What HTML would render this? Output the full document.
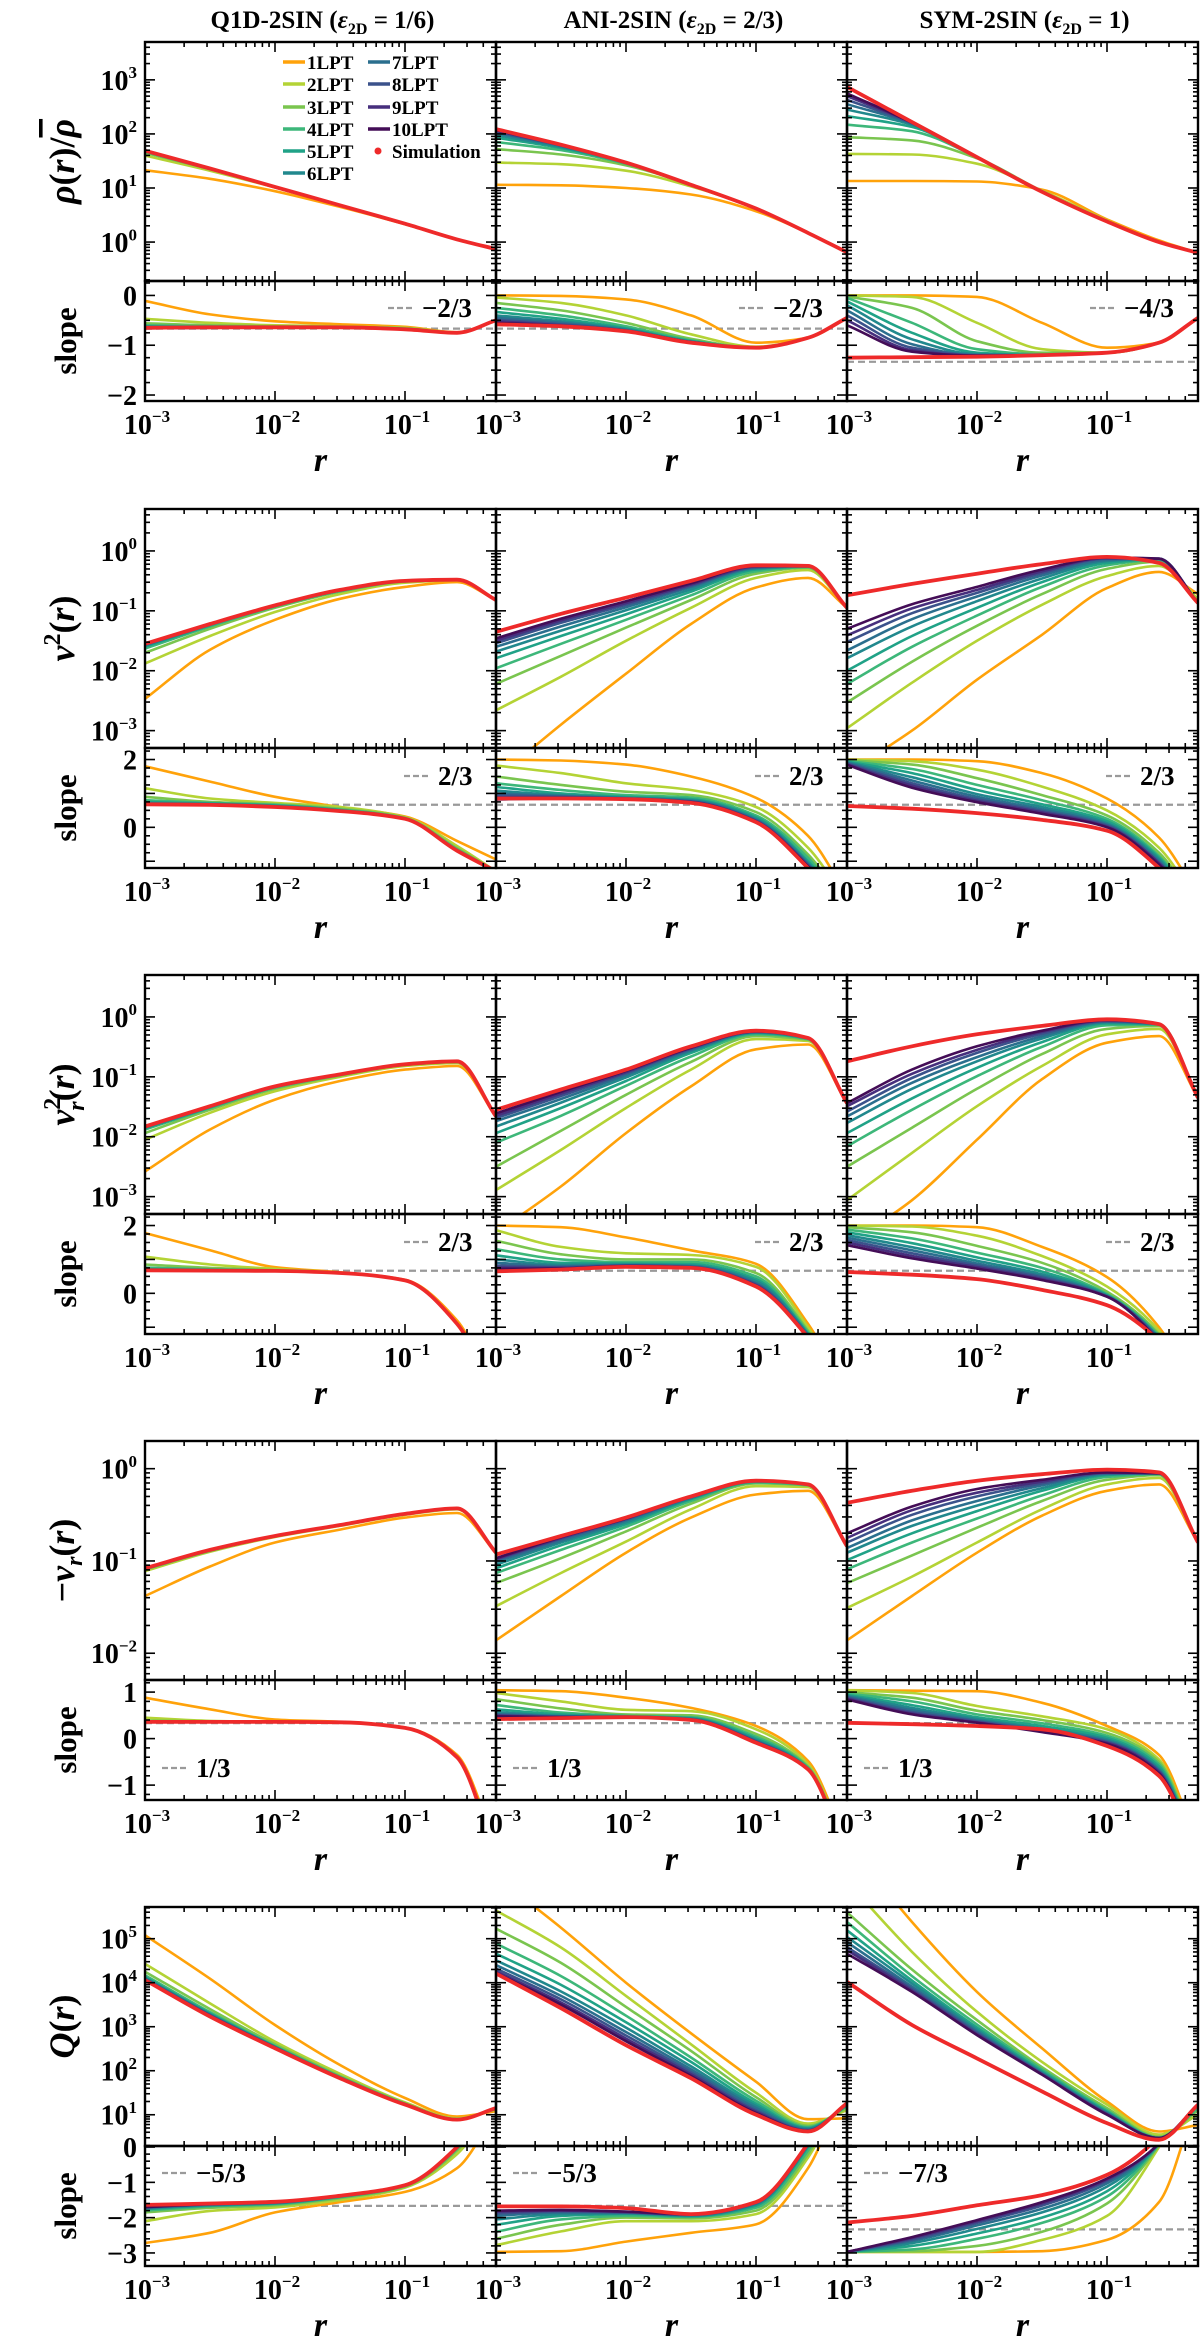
<!DOCTYPE html>
<html><head><meta charset="utf-8">
<style>
html,body{margin:0;padding:0;background:#fff;}
svg{display:block;}
text{font-family:"Liberation Serif","DejaVu Serif",serif;font-weight:bold;fill:#000;}
</style></head>
<body>
<svg id="fig" width="1200" height="2342" viewBox="0 0 1200 2342" xmlns="http://www.w3.org/2000/svg"></svg>
<script>
// ---------- shared x grid (log10 r) ----------
const LX = [-3,-2.5,-2,-1.5,-1,-0.6,-0.3];
const colNames = ["Q1D","ANI","SYM"];
const orderLabels = ["1LPT","2LPT","3LPT","4LPT","5LPT","6LPT","7LPT","8LPT","9LPT","10LPT"];

// ---------- ROW 1: rho (log10 values) ----------
const rhoQ1D = [
 [1.33,1.17,0.94,0.65,0.33,0.05,-0.13],
 [1.60,1.32,1.01,0.68,0.34,0.05,-0.13],
 [1.65,1.35,1.02,0.68,0.34,0.05,-0.13],
 [1.67,1.35,1.02,0.68,0.34,0.05,-0.13],
 [1.68,1.36,1.02,0.68,0.34,0.05,-0.13],
 [1.68,1.36,1.02,0.68,0.34,0.05,-0.13],
 [1.69,1.36,1.02,0.68,0.34,0.05,-0.13],
 [1.69,1.36,1.02,0.68,0.34,0.05,-0.13],
 [1.69,1.36,1.02,0.68,0.34,0.05,-0.13],
 [1.69,1.36,1.02,0.68,0.34,0.05,-0.13]];
const rhoQ1DSim = [1.69,1.36,1.02,0.68,0.34,0.05,-0.13];
const rhoANI = [
 [1.06,1.05,1.00,0.88,0.57,0.17,-0.19],
 [1.47,1.44,1.32,1.03,0.62,0.17,-0.19],
 [1.72,1.62,1.42,1.06,0.62,0.17,-0.19],
 [1.85,1.70,1.45,1.06,0.62,0.17,-0.19],
 [1.93,1.74,1.46,1.06,0.62,0.17,-0.19],
 [1.98,1.76,1.47,1.06,0.62,0.17,-0.19],
 [2.02,1.78,1.47,1.06,0.62,0.17,-0.19],
 [2.04,1.79,1.47,1.06,0.62,0.17,-0.19],
 [2.06,1.79,1.47,1.06,0.62,0.17,-0.19],
 [2.07,1.80,1.47,1.06,0.62,0.17,-0.19]];
const rhoANISim = [2.09,1.80,1.47,1.06,0.62,0.17,-0.19];
const rhoSYM = [
 [1.13,1.13,1.12,0.97,0.42,0.03,-0.2],
 [1.63,1.62,1.45,0.95,0.40,0.00,-0.2],
 [1.94,1.88,1.55,0.94,0.38,0.00,-0.2],
 [2.17,2.05,1.57,0.93,0.38,0.00,-0.2],
 [2.33,2.13,1.57,0.93,0.38,0.00,-0.2],
 [2.45,2.17,1.57,0.93,0.38,0.00,-0.2],
 [2.55,2.19,1.57,0.93,0.38,0.00,-0.2],
 [2.63,2.20,1.57,0.93,0.38,0.00,-0.2],
 [2.70,2.21,1.57,0.93,0.38,0.00,-0.2],
 [2.75,2.21,1.57,0.93,0.38,0.00,-0.2]];
const rhoSYMSim = [2.87,2.22,1.57,0.93,0.38,0.00,-0.2];
const rhoQ1DSlope = [
 [-0.11,-0.38,-0.52,-0.58,-0.63,-0.74,-0.5],
 [-0.47,-0.55,-0.60,-0.62,-0.65,-0.74,-0.5],
 [-0.56,-0.60,-0.62,-0.63,-0.66,-0.75,-0.5],
 [-0.60,-0.62,-0.63,-0.64,-0.67,-0.75,-0.5],
 [-0.62,-0.63,-0.63,-0.64,-0.67,-0.75,-0.5],
 [-0.63,-0.63,-0.64,-0.64,-0.68,-0.75,-0.5],
 [-0.64,-0.64,-0.64,-0.64,-0.68,-0.75,-0.5],
 [-0.65,-0.64,-0.64,-0.64,-0.68,-0.75,-0.5],
 [-0.65,-0.64,-0.64,-0.64,-0.68,-0.75,-0.5],
 [-0.66,-0.65,-0.64,-0.64,-0.68,-0.75,-0.5]];
const rhoQ1DSlopeSim = [-0.65,-0.64,-0.64,-0.64,-0.68,-0.75,-0.5];
const rhoANISlope = [
 [0.00,-0.01,-0.08,-0.40,-0.95,-0.85,-0.45],
 [-0.04,-0.15,-0.40,-0.78,-1.03,-0.85,-0.45],
 [-0.15,-0.30,-0.55,-0.87,-1.05,-0.85,-0.45],
 [-0.25,-0.40,-0.62,-0.90,-1.05,-0.85,-0.45],
 [-0.33,-0.47,-0.66,-0.92,-1.05,-0.85,-0.45],
 [-0.40,-0.52,-0.68,-0.93,-1.05,-0.85,-0.45],
 [-0.45,-0.55,-0.70,-0.93,-1.05,-0.85,-0.45],
 [-0.49,-0.58,-0.70,-0.94,-1.05,-0.85,-0.45],
 [-0.52,-0.60,-0.71,-0.94,-1.05,-0.85,-0.45],
 [-0.55,-0.61,-0.71,-0.94,-1.05,-0.85,-0.45]];
const rhoANISlopeSim = [-0.58,-0.62,-0.72,-0.95,-1.05,-0.85,-0.45];
const rhoSYMSlope = [
 [0.00,0.00,-0.03,-0.55,-1.05,-0.95,-0.45],
 [0.00,-0.03,-0.55,-1.08,-1.15,-0.95,-0.45],
 [-0.02,-0.25,-0.92,-1.15,-1.15,-0.95,-0.45],
 [-0.05,-0.55,-1.08,-1.18,-1.15,-0.95,-0.45],
 [-0.12,-0.75,-1.15,-1.20,-1.15,-0.95,-0.45],
 [-0.20,-0.88,-1.18,-1.20,-1.15,-0.95,-0.45],
 [-0.30,-0.98,-1.20,-1.20,-1.15,-0.95,-0.45],
 [-0.40,-1.05,-1.20,-1.20,-1.15,-0.95,-0.45],
 [-0.50,-1.10,-1.21,-1.20,-1.15,-0.95,-0.45],
 [-0.60,-1.13,-1.21,-1.20,-1.15,-0.95,-0.45]];
const rhoSYMSlopeSim = [-1.25,-1.24,-1.23,-1.20,-1.15,-0.95,-0.45];

// ---------- ROW 2: v^2 ----------
const v2Q1D = [
 [-2.47,-1.65,-1.15,-0.80,-0.60,-0.52,-0.82],
 [-1.88,-1.42,-1.02,-0.72,-0.53,-0.49,-0.82],
 [-1.70,-1.30,-0.95,-0.68,-0.51,-0.48,-0.82],
 [-1.63,-1.26,-0.93,-0.67,-0.51,-0.48,-0.82],
 [-1.60,-1.24,-0.92,-0.66,-0.50,-0.48,-0.82],
 [-1.58,-1.23,-0.92,-0.66,-0.50,-0.48,-0.82],
 [-1.57,-1.23,-0.91,-0.65,-0.50,-0.48,-0.82],
 [-1.56,-1.22,-0.91,-0.65,-0.50,-0.48,-0.82],
 [-1.56,-1.22,-0.91,-0.65,-0.50,-0.48,-0.82],
 [-1.55,-1.22,-0.91,-0.65,-0.50,-0.48,-0.82]];
const v2Q1DSim = [-1.55,-1.22,-0.91,-0.65,-0.50,-0.48,-0.82];
const v2ANI = [
 [-3.80,-2.90,-2.05,-1.22,-0.61,-0.45,-0.95],
 [-2.66,-2.10,-1.50,-0.95,-0.45,-0.32,-0.95],
 [-2.22,-1.75,-1.28,-0.82,-0.38,-0.28,-0.95],
 [-1.96,-1.55,-1.15,-0.74,-0.34,-0.27,-0.95],
 [-1.79,-1.42,-1.06,-0.68,-0.31,-0.26,-0.95],
 [-1.68,-1.33,-0.99,-0.64,-0.29,-0.26,-0.95],
 [-1.60,-1.26,-0.94,-0.60,-0.28,-0.26,-0.95],
 [-1.54,-1.20,-0.90,-0.58,-0.27,-0.25,-0.95],
 [-1.50,-1.16,-0.87,-0.56,-0.26,-0.25,-0.95],
 [-1.46,-1.13,-0.84,-0.54,-0.25,-0.25,-0.95]];
const v2ANISim = [-1.35,-1.05,-0.78,-0.50,-0.24,-0.25,-0.95];
const v2SYM = [
 [-3.70,-3.00,-2.15,-1.40,-0.62,-0.35,-0.72],
 [-2.96,-2.20,-1.50,-0.90,-0.42,-0.25,-0.80],
 [-2.53,-1.85,-1.25,-0.72,-0.30,-0.18,-0.85],
 [-2.22,-1.60,-1.08,-0.60,-0.24,-0.15,-0.87],
 [-2.00,-1.42,-0.95,-0.52,-0.20,-0.14,-0.87],
 [-1.79,-1.26,-0.84,-0.46,-0.17,-0.13,-0.87],
 [-1.66,-1.14,-0.76,-0.41,-0.15,-0.13,-0.87],
 [-1.52,-1.04,-0.70,-0.37,-0.13,-0.13,-0.87],
 [-1.41,-0.96,-0.65,-0.34,-0.12,-0.13,-0.87],
 [-1.30,-0.89,-0.60,-0.31,-0.11,-0.13,-0.87]];
const v2SYMSim = [-0.74,-0.55,-0.38,-0.22,-0.10,-0.20,-0.87];
const v2Q1DSlope = [
 [1.80,1.35,0.90,0.60,0.32,-0.40,-0.95],
 [1.15,0.85,0.72,0.60,0.30,-0.55,-1.3],
 [0.90,0.75,0.68,0.55,0.28,-0.62,-1.3],
 [0.80,0.72,0.66,0.52,0.27,-0.65,-1.3],
 [0.75,0.70,0.64,0.51,0.26,-0.67,-1.3],
 [0.72,0.69,0.63,0.50,0.25,-0.68,-1.3],
 [0.70,0.68,0.62,0.49,0.25,-0.69,-1.3],
 [0.69,0.67,0.61,0.48,0.25,-0.69,-1.3],
 [0.69,0.67,0.60,0.48,0.25,-0.69,-1.3],
 [0.68,0.66,0.60,0.48,0.25,-0.69,-1.3]];
const v2Q1DSlopeSim = [0.68,0.66,0.60,0.48,0.25,-0.69,-1.3];
const v2ANISlope = [
 [2.00,1.97,1.85,1.50,0.87,-0.25,-2.0],
 [1.82,1.60,1.30,1.10,0.60,-0.60,-2.2],
 [1.50,1.25,1.05,0.95,0.45,-0.80,-2.3],
 [1.30,1.10,0.95,0.88,0.35,-0.90,-2.4],
 [1.19,1.00,0.90,0.83,0.30,-1.00,-2.4],
 [1.08,0.95,0.87,0.80,0.25,-1.05,-2.5],
 [1.00,0.92,0.86,0.78,0.22,-1.10,-2.5],
 [0.94,0.90,0.85,0.76,0.20,-1.10,-2.5],
 [0.88,0.88,0.84,0.75,0.18,-1.15,-2.5],
 [0.82,0.86,0.84,0.74,0.17,-1.15,-2.5]];
const v2ANISlopeSim = [0.85,0.85,0.83,0.72,0.15,-1.20,-2.5];
const v2SYMSlope = [
 [2.00,2.00,1.95,1.60,0.85,-0.30,-2.0],
 [2.00,1.95,1.70,1.20,0.50,-0.60,-2.2],
 [1.98,1.85,1.45,0.95,0.35,-0.75,-2.3],
 [1.96,1.72,1.25,0.80,0.25,-0.85,-2.4],
 [1.94,1.60,1.10,0.68,0.18,-0.90,-2.4],
 [1.92,1.48,0.98,0.60,0.12,-0.95,-2.5],
 [1.90,1.38,0.90,0.53,0.08,-1.00,-2.5],
 [1.88,1.30,0.83,0.48,0.05,-1.05,-2.5],
 [1.86,1.23,0.78,0.44,0.02,-1.05,-2.5],
 [1.84,1.17,0.74,0.40,0.00,-1.10,-2.5]];
const v2SYMSlopeSim = [0.63,0.55,0.42,0.22,-0.10,-1.20,-2.5];

// ---------- ROW 3: v_r^2 ----------
const vr2Q1D = [
 [-2.58,-1.88,-1.38,-1.07,-0.88,-0.82,-1.66],
 [-2.05,-1.60,-1.24,-1.00,-0.82,-0.77,-1.66],
 [-1.94,-1.55,-1.20,-0.98,-0.80,-0.75,-1.66],
 [-1.88,-1.52,-1.18,-0.97,-0.80,-0.75,-1.66],
 [-1.86,-1.51,-1.17,-0.96,-0.79,-0.74,-1.66],
 [-1.85,-1.50,-1.17,-0.96,-0.79,-0.74,-1.66],
 [-1.84,-1.50,-1.16,-0.96,-0.79,-0.74,-1.66],
 [-1.84,-1.49,-1.16,-0.96,-0.79,-0.74,-1.66],
 [-1.83,-1.49,-1.16,-0.96,-0.79,-0.74,-1.66],
 [-1.83,-1.49,-1.16,-0.96,-0.79,-0.74,-1.66]];
const vr2Q1DSim = [-1.83,-1.49,-1.16,-0.96,-0.79,-0.74,-1.66];
const vr2ANI = [
 [-3.60,-2.83,-1.94,-1.16,-0.54,-0.46,-1.44],
 [-2.89,-2.22,-1.52,-0.88,-0.37,-0.40,-1.44],
 [-2.50,-1.90,-1.30,-0.75,-0.32,-0.38,-1.44],
 [-2.10,-1.65,-1.15,-0.66,-0.29,-0.37,-1.44],
 [-1.94,-1.52,-1.07,-0.60,-0.27,-0.36,-1.44],
 [-1.83,-1.43,-1.01,-0.57,-0.26,-0.36,-1.44],
 [-1.74,-1.37,-0.97,-0.55,-0.25,-0.35,-1.44],
 [-1.69,-1.32,-0.94,-0.53,-0.25,-0.35,-1.44],
 [-1.65,-1.28,-0.92,-0.52,-0.24,-0.35,-1.44],
 [-1.61,-1.25,-0.90,-0.51,-0.24,-0.35,-1.44]];
const vr2ANISim = [-1.55,-1.21,-0.88,-0.49,-0.23,-0.35,-1.44];
const vr2SYM = [
 [-3.80,-3.06,-2.05,-1.04,-0.43,-0.32,-1.35],
 [-3.06,-2.27,-1.49,-0.82,-0.29,-0.20,-1.35],
 [-2.50,-1.85,-1.20,-0.62,-0.20,-0.15,-1.35],
 [-2.16,-1.55,-0.99,-0.50,-0.14,-0.13,-1.35],
 [-1.94,-1.36,-0.85,-0.42,-0.11,-0.12,-1.35],
 [-1.77,-1.20,-0.74,-0.36,-0.09,-0.12,-1.35],
 [-1.66,-1.10,-0.67,-0.32,-0.08,-0.12,-1.35],
 [-1.58,-1.02,-0.60,-0.28,-0.07,-0.12,-1.35],
 [-1.49,-0.95,-0.55,-0.25,-0.06,-0.12,-1.35],
 [-1.44,-0.88,-0.49,-0.23,-0.05,-0.12,-1.35]];
const vr2SYMSim = [-0.74,-0.49,-0.29,-0.15,-0.04,-0.12,-1.35];
const vr2Q1DSlope = [
 [1.78,1.27,0.77,0.62,0.40,-0.80,-3.0],
 [1.08,0.85,0.72,0.61,0.38,-0.90,-3.0],
 [0.85,0.75,0.68,0.60,0.38,-0.90,-3.0],
 [0.76,0.71,0.67,0.60,0.38,-0.90,-3.0],
 [0.72,0.69,0.66,0.60,0.38,-0.90,-3.0],
 [0.70,0.68,0.66,0.60,0.38,-0.90,-3.0],
 [0.69,0.68,0.66,0.60,0.38,-0.90,-3.0],
 [0.68,0.67,0.66,0.60,0.38,-0.90,-3.0],
 [0.68,0.67,0.66,0.60,0.38,-0.90,-3.0],
 [0.68,0.67,0.66,0.60,0.38,-0.90,-3.0]];
const vr2Q1DSlopeSim = [0.68,0.67,0.66,0.60,0.38,-0.90,-3.0];
const vr2ANISlope = [
 [2.00,1.95,1.65,1.27,0.87,-0.90,-3.0],
 [1.86,1.37,1.18,1.13,0.78,-1.00,-3.0],
 [1.55,1.15,1.00,1.00,0.60,-1.10,-3.0],
 [1.30,1.00,0.92,0.92,0.50,-1.15,-3.0],
 [1.12,0.90,0.88,0.86,0.42,-1.20,-3.0],
 [1.00,0.84,0.85,0.82,0.36,-1.20,-3.0],
 [0.90,0.80,0.83,0.80,0.30,-1.25,-3.0],
 [0.82,0.77,0.82,0.78,0.27,-1.25,-3.0],
 [0.76,0.75,0.81,0.77,0.24,-1.30,-3.0],
 [0.72,0.73,0.80,0.76,0.22,-1.30,-3.0]];
const vr2ANISlopeSim = [0.65,0.70,0.78,0.75,0.20,-1.30,-3.0];
const vr2SYMSlope = [
 [2.00,2.00,1.95,1.37,0.48,-1.00,-3.0],
 [2.00,1.97,1.70,1.10,0.20,-1.10,-3.0],
 [1.95,1.80,1.40,0.90,0.05,-1.20,-3.0],
 [1.88,1.62,1.20,0.75,-0.02,-1.25,-3.0],
 [1.80,1.48,1.06,0.64,-0.05,-1.30,-3.0],
 [1.72,1.36,0.96,0.56,-0.07,-1.30,-3.0],
 [1.64,1.27,0.88,0.50,-0.08,-1.35,-3.0],
 [1.57,1.18,0.82,0.46,-0.09,-1.35,-3.0],
 [1.50,1.10,0.77,0.42,-0.10,-1.40,-3.0],
 [1.42,1.03,0.73,0.39,-0.10,-1.40,-3.0]];
const vr2SYMSlopeSim = [0.63,0.55,0.42,0.10,-0.35,-1.40,-3.0];

// ---------- ROW 4: -v_r ----------
const vrQ1D = [
 [-1.38,-1.06,-0.80,-0.66,-0.53,-0.48,-0.91],
 [-1.11,-0.90,-0.74,-0.62,-0.50,-0.44,-0.91],
 [-1.09,-0.89,-0.73,-0.61,-0.49,-0.43,-0.91],
 [-1.09,-0.89,-0.73,-0.61,-0.49,-0.43,-0.91],
 [-1.08,-0.88,-0.73,-0.61,-0.49,-0.43,-0.91],
 [-1.08,-0.88,-0.73,-0.61,-0.49,-0.43,-0.91],
 [-1.08,-0.88,-0.73,-0.61,-0.49,-0.43,-0.91],
 [-1.08,-0.88,-0.73,-0.61,-0.49,-0.43,-0.91],
 [-1.08,-0.88,-0.73,-0.61,-0.49,-0.43,-0.91],
 [-1.08,-0.88,-0.73,-0.61,-0.49,-0.43,-0.91]];
const vrQ1DSim = [-1.08,-0.88,-0.73,-0.61,-0.49,-0.43,-0.91];
const vrANI = [
 [-1.86,-1.38,-0.91,-0.53,-0.28,-0.24,-0.84],
 [-1.49,-1.13,-0.79,-0.44,-0.19,-0.20,-0.84],
 [-1.24,-0.97,-0.68,-0.38,-0.16,-0.18,-0.84],
 [-1.13,-0.88,-0.63,-0.35,-0.15,-0.18,-0.84],
 [-1.08,-0.83,-0.60,-0.33,-0.14,-0.17,-0.84],
 [-1.04,-0.80,-0.58,-0.32,-0.14,-0.17,-0.84],
 [-1.01,-0.78,-0.56,-0.31,-0.13,-0.17,-0.84],
 [-0.99,-0.76,-0.55,-0.31,-0.13,-0.17,-0.84],
 [-0.98,-0.75,-0.54,-0.30,-0.13,-0.17,-0.84],
 [-0.97,-0.74,-0.54,-0.30,-0.13,-0.17,-0.84]];
const vrANISim = [-0.93,-0.73,-0.53,-0.30,-0.13,-0.17,-0.84];
const vrSYM = [
 [-1.86,-1.38,-0.91,-0.51,-0.24,-0.17,-0.80],
 [-1.51,-1.17,-0.80,-0.44,-0.17,-0.10,-0.80],
 [-1.24,-0.94,-0.64,-0.35,-0.12,-0.07,-0.80],
 [-1.09,-0.80,-0.54,-0.29,-0.09,-0.06,-0.80],
 [-0.99,-0.70,-0.46,-0.24,-0.07,-0.05,-0.80],
 [-0.91,-0.62,-0.40,-0.21,-0.06,-0.05,-0.80],
 [-0.86,-0.56,-0.35,-0.18,-0.05,-0.05,-0.80],
 [-0.80,-0.50,-0.30,-0.16,-0.05,-0.05,-0.80],
 [-0.75,-0.45,-0.26,-0.14,-0.04,-0.05,-0.80],
 [-0.70,-0.41,-0.22,-0.12,-0.04,-0.05,-0.80]];
const vrSYMSim = [-0.37,-0.24,-0.13,-0.06,-0.01,-0.04,-0.80];
const vrQ1DSlope = [
 [0.88,0.63,0.41,0.36,0.24,-0.35,-2.3],
 [0.45,0.38,0.36,0.35,0.23,-0.40,-2.5],
 [0.39,0.37,0.36,0.35,0.23,-0.40,-2.5],
 [0.37,0.36,0.36,0.35,0.23,-0.40,-2.5],
 [0.37,0.36,0.36,0.35,0.23,-0.40,-2.5],
 [0.36,0.36,0.36,0.35,0.23,-0.40,-2.5],
 [0.36,0.36,0.36,0.35,0.23,-0.40,-2.5],
 [0.36,0.36,0.36,0.35,0.23,-0.40,-2.5],
 [0.36,0.36,0.36,0.35,0.23,-0.40,-2.5],
 [0.36,0.36,0.36,0.35,0.23,-0.40,-2.5]];
const vrQ1DSlopeSim = [0.36,0.36,0.36,0.35,0.23,-0.40,-2.5];
const vrANISlope = [
 [1.04,1.02,0.88,0.66,0.27,-0.48,-2.3],
 [0.98,0.80,0.62,0.59,0.20,-0.55,-2.4],
 [0.85,0.65,0.52,0.50,0.10,-0.60,-2.4],
 [0.72,0.56,0.49,0.46,0.04,-0.62,-2.5],
 [0.63,0.52,0.48,0.44,0.00,-0.64,-2.5],
 [0.57,0.49,0.47,0.43,-0.03,-0.65,-2.5],
 [0.53,0.48,0.47,0.42,-0.05,-0.65,-2.5],
 [0.51,0.47,0.46,0.41,-0.06,-0.66,-2.5],
 [0.49,0.46,0.46,0.41,-0.07,-0.66,-2.5],
 [0.48,0.46,0.46,0.40,-0.08,-0.66,-2.5]];
const vrANISlopeSim = [0.42,0.44,0.46,0.40,-0.09,-0.66,-2.5];
const vrSYMSlope = [
 [1.04,1.03,1.02,0.77,0.27,-0.35,-2.3],
 [1.04,0.98,0.70,0.48,0.20,-0.45,-2.4],
 [1.00,0.88,0.60,0.40,0.12,-0.50,-2.4],
 [0.97,0.80,0.52,0.33,0.06,-0.55,-2.5],
 [0.94,0.72,0.46,0.27,0.02,-0.60,-2.5],
 [0.92,0.66,0.42,0.22,-0.02,-0.65,-2.5],
 [0.90,0.61,0.39,0.19,-0.05,-0.68,-2.5],
 [0.88,0.57,0.37,0.17,-0.07,-0.70,-2.5],
 [0.86,0.54,0.35,0.15,-0.09,-0.72,-2.5],
 [0.84,0.52,0.34,0.14,-0.11,-0.75,-2.5]];
const vrSYMSlopeSim = [0.34,0.31,0.27,0.20,-0.16,-0.80,-2.5];

// ---------- ROW 5: Q ----------
const qQ1D = [
 [5.08,4.09,3.04,2.13,1.38,0.96,1.08],
 [4.43,3.53,2.66,1.93,1.28,0.92,1.12],
 [4.25,3.40,2.60,1.88,1.26,0.90,1.13],
 [4.17,3.33,2.56,1.86,1.25,0.90,1.14],
 [4.13,3.30,2.55,1.85,1.24,0.89,1.14],
 [4.11,3.28,2.54,1.84,1.24,0.89,1.15],
 [4.09,3.27,2.53,1.84,1.23,0.89,1.15],
 [4.08,3.26,2.53,1.83,1.23,0.89,1.15],
 [4.07,3.25,2.52,1.83,1.23,0.89,1.15],
 [4.06,3.24,2.52,1.83,1.23,0.89,1.15]];
const qQ1DSim = [4.06,3.23,2.51,1.83,1.23,0.89,1.15];
const qANI = [
 [6.40,5.25,4.00,2.85,1.75,0.90,0.92],
 [5.64,4.80,3.70,2.60,1.50,0.80,1.10],
 [5.23,4.45,3.45,2.45,1.40,0.75,1.15],
 [4.89,4.15,3.25,2.30,1.32,0.72,1.20],
 [4.66,3.95,3.10,2.20,1.25,0.70,1.20],
 [4.51,3.80,2.98,2.10,1.20,0.68,1.22],
 [4.40,3.70,2.88,2.03,1.15,0.66,1.24],
 [4.32,3.62,2.80,1.97,1.10,0.65,1.25],
 [4.26,3.55,2.73,1.92,1.07,0.64,1.26],
 [4.22,3.50,2.67,1.88,1.04,0.63,1.26]];
const qANISim = [4.21,3.42,2.58,1.83,1.00,0.62,1.26];
const qSYM = [
 [7.20,5.38,3.79,2.51,1.30,0.62,0.77],
 [6.30,4.70,3.34,2.20,1.23,0.55,1.00],
 [5.60,4.30,3.15,2.08,1.15,0.50,1.10],
 [5.38,4.15,3.05,2.03,1.10,0.48,1.15],
 [5.19,4.05,2.98,1.99,1.07,0.47,1.20],
 [5.04,3.98,2.93,1.96,1.05,0.47,1.22],
 [4.92,3.91,2.89,1.94,1.03,0.47,1.23],
 [4.81,3.86,2.86,1.93,1.02,0.47,1.23],
 [4.74,3.82,2.83,1.92,1.01,0.47,1.23],
 [4.66,3.79,2.81,1.91,1.00,0.47,1.23]];
const qSYMSim = [4.02,3.04,2.28,1.53,0.81,0.43,1.23];
const qQ1DSlope = [
 [-2.72,-2.43,-1.85,-1.56,-1.27,-0.60,1.0],
 [-2.10,-1.81,-1.71,-1.50,-1.15,-0.20,1.3],
 [-1.85,-1.72,-1.65,-1.45,-1.12,-0.10,1.4],
 [-1.80,-1.68,-1.62,-1.42,-1.10,-0.05,1.4],
 [-1.76,-1.66,-1.60,-1.41,-1.09,-0.02,1.5],
 [-1.74,-1.64,-1.59,-1.40,-1.09,0.00,1.5],
 [-1.72,-1.63,-1.58,-1.39,-1.08,0.00,1.5],
 [-1.71,-1.62,-1.57,-1.39,-1.08,0.00,1.5],
 [-1.70,-1.62,-1.56,-1.38,-1.08,0.00,1.5],
 [-1.70,-1.61,-1.56,-1.38,-1.08,0.00,1.5]];
const qQ1DSlopeSim = [-1.64,-1.60,-1.55,-1.38,-1.08,0.00,1.5];
const qANISlope = [
 [-2.97,-2.95,-2.68,-2.43,-2.19,-0.60,2.0],
 [-2.78,-2.39,-2.10,-2.10,-1.90,-0.30,2.0],
 [-2.60,-2.20,-2.00,-2.02,-1.80,-0.20,2.0],
 [-2.40,-2.05,-1.95,-1.98,-1.72,-0.10,2.0],
 [-2.20,-1.95,-1.90,-1.96,-1.66,0.00,2.0],
 [-2.05,-1.90,-1.88,-1.94,-1.62,0.05,2.0],
 [-1.95,-1.85,-1.86,-1.93,-1.60,0.05,2.0],
 [-1.88,-1.82,-1.85,-1.92,-1.58,0.08,2.0],
 [-1.83,-1.80,-1.84,-1.91,-1.57,0.08,2.0],
 [-1.80,-1.78,-1.83,-1.90,-1.56,0.10,2.0]];
const qANISlopeSim = [-1.68,-1.68,-1.73,-1.90,-1.56,0.10,2.0];
const qSYMSlope = [
 [-2.97,-2.97,-2.97,-2.95,-2.63,-1.56,1.5],
 [-2.97,-2.97,-2.97,-2.63,-1.95,0.00,2.0],
 [-2.97,-2.95,-2.80,-2.40,-1.60,0.05,2.0],
 [-2.97,-2.90,-2.60,-2.15,-1.40,0.08,2.0],
 [-2.97,-2.80,-2.45,-2.00,-1.25,0.10,2.0],
 [-2.97,-2.72,-2.32,-1.85,-1.12,0.10,2.0],
 [-2.97,-2.66,-2.22,-1.75,-1.03,0.10,2.0],
 [-2.97,-2.62,-2.15,-1.66,-0.96,0.10,2.0],
 [-2.97,-2.58,-2.10,-1.60,-0.92,0.10,2.0],
 [-2.97,-2.55,-2.07,-1.56,-0.89,0.10,2.0]];
const qSYMSlopeSim = [-2.14,-1.95,-1.65,-1.36,-0.79,0.30,2.0];

// reference slopes (dashed) per row/col
const refSlope = [[-2/3,-2/3,-4/3],[2/3,2/3,2/3],[2/3,2/3,2/3],[1/3,1/3,1/3],[-5/3,-5/3,-7/3]];
const refLabel = [["−2/3","−2/3","−4/3"],["2/3","2/3","2/3"],["2/3","2/3","2/3"],["1/3","1/3","1/3"],["−5/3","−5/3","−7/3"]];

// ---------- layout ----------
const COLX = [145,496,847], PW = 351;
const ROWTOP = [42,509,975,1441,1907], MH = 239, SH = 120;
const mainRange = [[-0.72,3.70],[-3.29,0.70],[-3.29,0.70],[-2.29,0.30],[0.29,5.72]];
const slopeRange = [[-2.12,0.29],[-1.2,2.34],[-1.2,2.34],[-1.32,1.26],[-3.37,0.03]];
const mainTicks = [[0,1,2,3],[-3,-2,-1,0],[-3,-2,-1,0],[-2,-1,0],[1,2,3,4,5]];
const slopeTicks = [[-2,-1,0],[0,2],[0,2],[-1,0,1],[-3,-2,-1,0]];
const slopeMinor = [0.25,0.25,0.25,0.2,0.2];
const rowKeys = ["rho","v2","vr2","vr","q"];
const COLORS = ["#ffa20a","#b4d335","#7ac54f","#3db77a","#20a287","#21888d","#2b6f8e","#3b528b","#472f7d","#440d57"];
const SIMC = "#ee2a2a";

const svg = document.getElementById('fig');
const NS = "http://www.w3.org/2000/svg";
function mk(tag, attrs, parent){const e=document.createElementNS(NS,tag);for(const k in attrs)e.setAttribute(k,attrs[k]);(parent||svg).appendChild(e);return e;}

function xScale(c, lx){return COLX[c] + (lx+3)/2.7*PW;}
function yScale(top,h,range,v){return top + h - (v-range[0])/(range[1]-range[0])*h;}

function monoPath(pts){
  const n=pts.length; if(n<2) return "";
  const dx=[],dy=[],m=[];
  for(let i=0;i<n-1;i++){dx[i]=pts[i+1][0]-pts[i][0];dy[i]=pts[i+1][1]-pts[i][1];m[i]=dy[i]/dx[i];}
  const t=[m[0]];
  for(let i=1;i<n-1;i++){ if(m[i-1]*m[i]<=0) t[i]=0; else { const w1=2*dx[i]+dx[i-1], w2=dx[i]+2*dx[i-1]; t[i]=(w1+w2)/(w1/m[i-1]+w2/m[i]); } }
  t[n-1]=m[n-2];
  let d="M"+pts[0][0].toFixed(1)+","+pts[0][1].toFixed(1);
  for(let i=0;i<n-1;i++){
    const h=dx[i]/3;
    d+=" C"+(pts[i][0]+h).toFixed(1)+","+(pts[i][1]+t[i]*h).toFixed(1)+" "+(pts[i+1][0]-h).toFixed(1)+","+(pts[i+1][1]-t[i+1]*h).toFixed(1)+" "+pts[i+1][0].toFixed(1)+","+pts[i+1][1].toFixed(1);
  }
  return d;
}

function tenLabel(g, x, y, exp, anchor, size){
  const t = mk('text',{x:x,y:y,'font-size':size,'text-anchor':anchor},g);
  t.appendChild(document.createTextNode("10"));
  const s = mk('tspan',{dy:-(size*0.42),'font-size':Math.round(size*0.62)},t);
  s.textContent = (exp<0?"−":"")+Math.abs(exp);
  return t;
}

const defs = mk('defs',{});

// titles
const titles = [["Q1D-2SIN (","1/6)"],["ANI-2SIN (","2/3)"],["SYM-2SIN (","1)"]];
for(let c=0;c<3;c++){
  const t = mk('text',{x:COLX[c]+PW/2+2,y:28,'font-size':25,'text-anchor':'middle'});
  
  
  t.appendChild(document.createTextNode(titles[c][0]));
  const e = mk('tspan',{'font-style':'italic'},t); e.textContent="ε";
  const sb = mk('tspan',{dy:6,'font-size':16},t); sb.textContent="2D";
  const r = mk('tspan',{dy:-6},t); r.textContent=" = "+titles[c][1];
}

function drawSeries(g, c, top, h, range, lpt, sim, nameBase){
  for(let k=0;k<lpt.length;k++){
    const pts = LX.map((lx,i)=>[xScale(c,lx), yScale(top,h,range,lpt[k][i])]);
    const p = mk('path',{d:monoPath(pts),fill:'none',stroke:COLORS[k],'stroke-width':2.6,'stroke-linejoin':'round'},g);
    
    
  }
  const sp = LX.map((lx,i)=>[xScale(c,lx), yScale(top,h,range,sim[i])]);
  const s = mk('path',{d:monoPath(sp),fill:'none',stroke:SIMC,'stroke-width':3.8,'stroke-linejoin':'round'},g);
  
  
}

function xTicks(g,c,top,h){
  for(let d=-3; d<=-1; d++){
    for(let m=1;m<=9;m++){
      const lx = d+Math.log10(m);
      if(lx>-0.3) break;
      const x = xScale(c,lx), L = m===1?10:5;
      mk('line',{x1:x,x2:x,y1:top+h,y2:top+h-L,stroke:'#000','stroke-width':1.6},g);
      mk('line',{x1:x,x2:x,y1:top,y2:top+L,stroke:'#000','stroke-width':1.6},g);
    }
  }
}

for(let r=0;r<5;r++){
  const top = ROWTOP[r], stop = top+MH;
  for(let c=0;c<3;c++){
    const key = rowKeys[r]+colNames[c];
    const lptMain = eval(key), simMain = eval(key+"Sim");
    const lptSl = eval(key+"Slope"), simSl = eval(key+"SlopeSim");
    const x0 = COLX[c];
    const gm = mk('g',{});
    
    
    const cid = 'clipm'+r+c;
    const cp = mk('clipPath',{id:cid},defs); mk('rect',{x:x0,y:top,width:PW,height:MH},cp);
    const gl = mk('g',{'clip-path':'url(#'+cid+')'},gm);
    drawSeries(gl,c,top,MH,mainRange[r],lptMain,simMain,rowKeys[r]+'-'+colNames[c].toLowerCase());
    const mr = mainRange[r];
    for(let d=Math.floor(mr[0]); d<=Math.ceil(mr[1]); d++){
      for(let m=1;m<=9;m++){
        const v=d+Math.log10(m); if(v<mr[0]||v>mr[1]) continue;
        const y=yScale(top,MH,mr,v), L=m===1?10:5;
        mk('line',{x1:x0,x2:x0+L,y1:y,y2:y,stroke:'#000','stroke-width':1.6},gm);
        mk('line',{x1:x0+PW,x2:x0+PW-L,y1:y,y2:y,stroke:'#000','stroke-width':1.6},gm);
      }
    }
    xTicks(gm,c,top,MH);
    const fr = mk('rect',{x:x0,y:top,width:PW,height:MH,fill:'none',stroke:'#000','stroke-width':2.4},gm);
    
    

    const gs = mk('g',{});
    
    
    const cid2 = 'clips'+r+c;
    const cp2 = mk('clipPath',{id:cid2},defs); mk('rect',{x:x0,y:stop,width:PW,height:SH},cp2);
    const gl2 = mk('g',{'clip-path':'url(#'+cid2+')'},gs);
    const sr = slopeRange[r];
    const yr = yScale(stop,SH,sr,refSlope[r][c]);
    const ref = mk('line',{x1:x0,x2:x0+PW,y1:yr,y2:yr,stroke:'#9a9a9a','stroke-width':2.2,'stroke-dasharray':'7 4'},gl2);
    
    
    drawSeries(gl2,c,stop,SH,sr,lptSl,simSl,'slope-'+rowKeys[r]+'-'+colNames[c].toLowerCase());
    const step = slopeMinor[r];
    for(let v=Math.ceil(sr[0]/step)*step; v<=sr[1]+1e-9; v+=step){
      const y=yScale(stop,SH,sr,v), major=Math.abs(v-Math.round(v))<1e-6, L=major?10:5;
      mk('line',{x1:x0,x2:x0+L,y1:y,y2:y,stroke:'#000','stroke-width':1.6},gs);
      mk('line',{x1:x0+PW,x2:x0+PW-L,y1:y,y2:y,stroke:'#000','stroke-width':1.6},gs);
    }
    xTicks(gs,c,stop,SH);
    const fr2 = mk('rect',{x:x0,y:stop,width:PW,height:SH,fill:'none',stroke:'#000','stroke-width':2.4},gs);
    
    

    let lx0, ly;
    if(r<=2){ lx0 = x0 + (r===0?243:259); ly = stop + (r===0?27:28); }
    else if(r===3){ lx0 = x0+17; ly = stop+88; }
    else { lx0 = x0+17; ly = stop+27; }
    const lg = mk('g',{},gs);
    
    
    mk('line',{x1:lx0,x2:lx0+27,y1:ly,y2:ly,stroke:'#9a9a9a','stroke-width':2.2,'stroke-dasharray':'6 3'},lg);
    const lt = mk('text',{x:lx0+34,y:ly+9,'font-size':27},lg);
    lt.textContent = refLabel[r][c];

    for(let d=-3; d<=-1; d++){
      const tl = tenLabel(svg, xScale(c,d)+2, stop+SH+33, d, 'middle', 28);
      
      
    }
    const xl = mk('text',{x:x0+PW/2,y:stop+SH+70,'font-size':34,'font-style':'italic','text-anchor':'middle'});
    xl.textContent = "r";
    
    
  }
  for(const d of mainTicks[r]){
    const y = yScale(top,MH,mainRange[r],d);
    const tl = tenLabel(svg, 137, y+10, d, 'end', 28);
    
    
  }
  for(const v of slopeTicks[r]){
    const y = yScale(stop,SH,slopeRange[r],v);
    const tl = mk('text',{x:137,y:y+10,'font-size':28,'text-anchor':'end'});
    tl.textContent = (v<0?"−":"")+Math.abs(v);
    
    
  }
  const cy = top+MH/2;
  const yt = mk('text',{x:0,y:0,'font-size':36,'text-anchor':'middle',transform:'translate(74,'+cy+') rotate(-90)'});
  
  
  const it = (s)=>{const e=mk('tspan',{'font-style':'italic'},yt);e.textContent=s;return e;};
  const nt = (s,a)=>{const e=mk('tspan',a||{},yt);e.textContent=s;return e;};
  if(r===0){ it("ρ"); nt("("); it("r"); nt(")/"); const b=it("ρ"); b.setAttribute('text-decoration','overline'); }
  else if(r===1){ it("v"); nt("2",{dy:-14,'font-size':24}); nt("(",{dy:14}); it("r"); nt(")"); }
  else if(r===2){ it("v"); nt("2",{dy:-14,'font-size':24}); const s=mk('tspan',{dx:-13,dy:24,'font-size':24,'font-style':'italic'},yt); s.textContent="r"; nt("(",{dy:-10}); it("r"); nt(")"); }
  else if(r===3){ nt("−"); it("v"); const s=mk('tspan',{dy:8,'font-size':24,'font-style':'italic'},yt); s.textContent="r"; nt("(",{dy:-8}); it("r"); nt(")"); }
  else { it("Q"); nt("("); it("r"); nt(")"); }
  const st = mk('text',{x:0,y:0,'font-size':31,'text-anchor':'middle',transform:'translate(76,'+(top+MH+SH/2)+') rotate(-90)'});
  st.textContent = "slope";
  
  
}

const leg = mk('g',{});


const legRows = [62,84,107,129,151,173];
for(let k=0;k<10;k++){
  const colA = k<6, row = colA?k:k-6;
  const sx = colA?283:368, y = legRows[row];
  mk('line',{x1:sx,x2:sx+22,y1:y,y2:y,stroke:COLORS[k],'stroke-width':3.5},leg);
  const t = mk('text',{x:sx+24,y:y+7,'font-size':19},leg);
  t.textContent = orderLabels[k];
  
  
}
mk('circle',{cx:378,cy:legRows[4],r:3.5,fill:SIMC},leg);
const stx = mk('text',{x:392,y:legRows[4]+7,'font-size':19},leg);
stx.textContent = "Simulation";


</script>
</body></html>
